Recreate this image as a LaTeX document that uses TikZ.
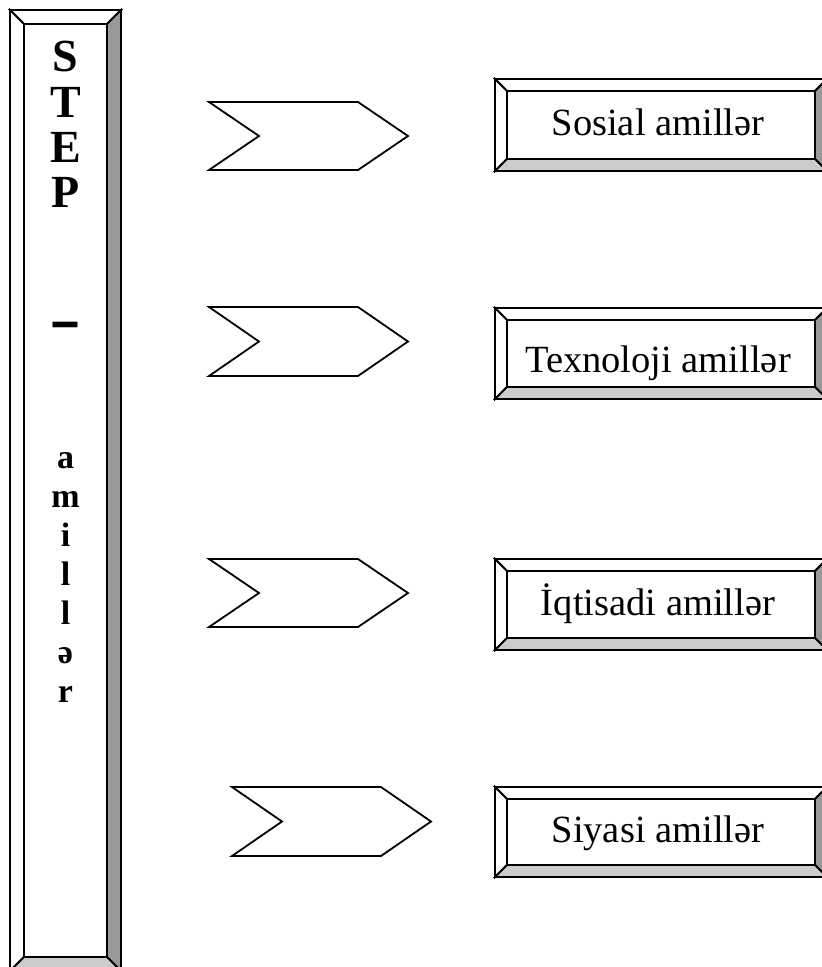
\documentclass[tikz,border=0pt]{standalone}
\usepackage{fontspec}
\setmainfont{Liberation Serif}
\definecolor{bevdark}{HTML}{999999}
\definecolor{bevlight}{HTML}{CCCCCC}

% bevelled frame: #1,#2 outer top-left, #3,#4 outer bottom-right, #5 bevel depth
\newcommand\bevelframe[5]{%
  \draw[fill=white] (#1,#2) -- (#3,#2) -- (#3-#5,#2+#5) -- (#1+#5,#2+#5) -- cycle;
  \draw[fill=white] (#1,#2) -- (#1+#5,#2+#5) -- (#1+#5,#4-#5) -- (#1,#4) -- cycle;
  \draw[fill=bevdark] (#3,#2) -- (#3,#4) -- (#3-#5,#4-#5) -- (#3-#5,#2+#5) -- cycle;
  \draw[fill=bevlight] (#1,#4) -- (#3,#4) -- (#3-#5,#4-#5) -- (#1+#5,#4-#5) -- cycle;
  \draw[fill=white] (#1+#5,#2+#5) rectangle (#3-#5,#4-#5);
}
% chevron arrow: #1,#2 top-left corner, #3 height
\newcommand\chevronshape[3]{%
  \draw[fill=white] (#1,#2) -- (#1+149,#2) -- (#1+199,#2+#3/2) -- (#1+149,#2+#3)
    -- (#1,#2+#3) -- (#1+50,#2+#3/2) -- cycle;
}

\begin{document}
\begin{tikzpicture}[x=1pt,y=-1pt,line width=1.8pt,line join=miter,
  bigletter/.style={anchor=base,inner sep=0pt,font=\fontsize{46}{46}\selectfont\bfseries},
  smallletter/.style={anchor=base,inner sep=0pt,font=\fontsize{34}{34}\selectfont\bfseries},
  factor/.style={anchor=base,inner sep=0pt,font=\fontsize{38.5}{38.5}\selectfont}]
\useasboundingbox (0,0) rectangle (822,967);
\clip (0,0) rectangle (822,967);

% vertical STEP bar
\bevelframe{10}{10}{121}{971}{14}
\node[bigletter] (s) at (65.5,71) {S};
\node[bigletter] (t) at (65.5,117) {T};
\node[bigletter] (e) at (65.5,162) {E};
\node[bigletter] (p) at (65.5,207) {P};
\node[anchor=base,inner sep=0pt,font=\fontsize{60}{60}\selectfont\bfseries] (dash) at (65.5,340) {\scalebox{1.6}[1.1]{-}};
\node[smallletter] (a1) at (65.5,468) {a};
\node[smallletter] (m1) at (65.5,507) {m};
\node[smallletter] (i1) at (65.5,546) {i};
\node[smallletter] (l1) at (65.5,585) {l};
\node[smallletter] (l2) at (65.5,624) {l};
\node[smallletter] (e1) at (65.5,663) {ə};
\node[smallletter] (r1) at (65.5,702) {r};

% chevrons
\chevronshape{209}{102}{68}
\chevronshape{209}{307}{69}
\chevronshape{209}{559}{68}
\chevronshape{232}{787}{69}

% factor boxes
\bevelframe{495}{79}{827}{171}{12}
\node[factor] (sosial) at (658,135) {Sosial amillər};
\bevelframe{495}{308}{827}{399}{12}
\node[factor] (texnoloji) at (658,372) {Texnoloji amillər};
\bevelframe{495}{559}{827}{650}{12}
\node[factor] (iqtisadi) at (658,615) {İqtisadi amillər};
\bevelframe{495}{787}{827}{877}{12}
\node[factor] (siyasi) at (658,842) {Siyasi amillər};
\end{tikzpicture}
\end{document}
